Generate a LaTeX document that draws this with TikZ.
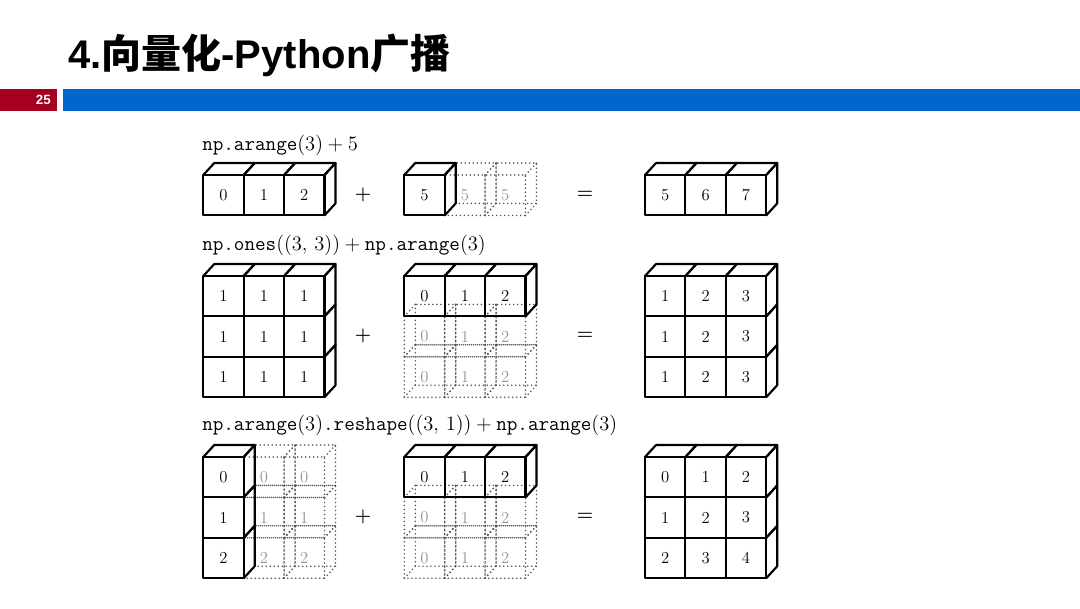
\RequirePackage{fix-cm}
\documentclass[tikz,border=0pt]{standalone}
\usepackage{fontspec}
\newfontfamily\cjk{Noto Sans CJK SC}
\newfontfamily\arialb{Liberation Sans}
\definecolor{hdrred}{HTML}{A50021}
\definecolor{hdrblue}{HTML}{0066CC}
\definecolor{ghost}{HTML}{959595}
\definecolor{dotgray}{HTML}{555555}
\def\s{40.4}
\def\dx{11}
\def\dz{12}
% solid block of cubes: x0, y0, ncols, nrows
\newcommand\solidblock[4]{%
  \foreach \i in {1,...,#3}{\foreach \j in {1,...,#4}{%
    \draw[cubeline] ({#1+(\i-1)*\s},{#2+(\j-1)*\s}) rectangle ++(\s,\s);}}
  \foreach \i in {1,...,#3}{%
    \draw[cubeline] ({#1+(\i-1)*\s},#2) -- ++(\dx,-\dz) -- ++(\s,0) -- ++(-\dx,\dz);}
  \foreach \j in {1,...,#4}{%
    \draw[cubeline] ({#1+#3*\s},{#2+(\j-1)*\s}) -- ++(\dx,-\dz) -- ++(0,\s) -- ++(-\dx,\dz);}
}
% dotted wireframe cubes: x0, y0, ncols, nrows
\newcommand\dotblock[4]{%
  \foreach \i in {1,...,#3}{\foreach \j in {1,...,#4}{%
    \draw[dotline] ({#1+(\i-1)*\s},{#2+(\j-1)*\s}) rectangle ++(\s,\s);
    \draw[dotline] ({#1+(\i-1)*\s+\dx},{#2+(\j-1)*\s-\dz}) rectangle ++(\s,\s);
    \draw[dotline] ({#1+(\i-1)*\s},{#2+(\j-1)*\s}) -- ++(\dx,-\dz);
    \draw[dotline] ({#1+\i*\s},{#2+(\j-1)*\s}) -- ++(\dx,-\dz);
    \draw[dotline] ({#1+(\i-1)*\s},{#2+\j*\s}) -- ++(\dx,-\dz);
    \draw[dotline] ({#1+\i*\s},{#2+\j*\s}) -- ++(\dx,-\dz);}}
}
\begin{document}
\begin{tikzpicture}[x=0.75pt,y=-0.75pt,
  cubeline/.style={line width=1.6pt, line join=round, line cap=round},
  dotline/.style={draw=dotgray, line width=1.3pt, line cap=round, dash pattern=on 0pt off 3pt},
  dig/.style={font=\fontsize{12.5}{14}\selectfont, inner sep=0pt},
  ghostdig/.style={dig, text=ghost},
  op/.style={font=\fontsize{14}{16}\selectfont\bfseries, inner sep=0pt},
  code/.style={anchor=base west, inner sep=0pt, font=\fontsize{15.4}{18}\selectfont}]
\useasboundingbox (0,0) rectangle (1080,608);
\fill[white] (0,0) rectangle (1080,608);

% header
\node[anchor=base west, inner sep=0pt, font=\fontsize{30}{36}\selectfont\arialb\bfseries] (title) at (68,68)
  {4.{\cjk 向量化}-Python{\cjk 广播}};
\fill[hdrred] (0,89) rectangle (57,111);
\fill[hdrblue] (62.5,89) rectangle (1080,111);
\node[anchor=east, text=white, inner sep=0pt, font=\fontsize{10}{12}\selectfont\arialb\bfseries] (pnum) at (51,100) {25};

% code labels
\node[code] (lab1) at (202,150) {$\texttt{np.arange}(3)+5$};
\node[code] (lab2) at (202,250) {$\texttt{np.ones}((3,\,3))+\texttt{np.arange}(3)$};
\node[code] (lab3) at (202,430) {$\texttt{np.arange}(3)\texttt{.reshape}((3,\,1))+\texttt{np.arange}(3)$};

% operators
\foreach \yy/\k in {195/1,336/2,517/3}{
  \node[op] (plus\k) at (363,\yy) {+};
  \node[op] (eq\k) at (585,\yy) {=};
}

% ---------- row 1 ----------
\dotblock{444.7}{175}{2}{1}
\solidblock{203.3}{175}{3}{1}
\solidblock{404.3}{175}{1}{1}
\solidblock{645}{175}{3}{1}
\foreach \v [count=\i] in {0,1,2}
  \node[dig] (r1a\i) at ({203.3+(\i-0.5)*\s},{175+0.5*\s}) {\v};
\node[dig] (r1b1) at ({404.3+0.5*\s},{175+0.5*\s}) {5};
\foreach \i in {2,3}
  \node[ghostdig] (r1b\i) at ({404.3+(\i-0.5)*\s},{175+0.5*\s}) {5};
\foreach \v [count=\i] in {5,6,7}
  \node[dig] (r1c\i) at ({645+(\i-0.5)*\s},{175+0.5*\s}) {\v};

% ---------- row 2 ----------
\dotblock{404.3}{316.4}{3}{2}
\solidblock{203.3}{276}{3}{3}
\solidblock{404.3}{276}{3}{1}
\solidblock{645}{276}{3}{3}
\foreach \j in {1,2,3}{
  \foreach \i in {1,2,3}{
    \node[dig] (r2a\i\j) at ({203.3+(\i-0.5)*\s},{276+(\j-0.5)*\s}) {1};
    \node[dig] (r2c\i\j) at ({645+(\i-0.5)*\s},{276+(\j-0.5)*\s}) {\i};
  }
}
\foreach \v [count=\i] in {0,1,2}{
  \node[dig] (r2b\i1) at ({404.3+(\i-0.5)*\s},{276+0.5*\s}) {\v};
  \node[ghostdig] (r2b\i2) at ({404.3+(\i-0.5)*\s},{276+1.5*\s}) {\v};
  \node[ghostdig] (r2b\i3) at ({404.3+(\i-0.5)*\s},{276+2.5*\s}) {\v};
}

% ---------- row 3 ----------
\dotblock{243.7}{457}{2}{3}
\dotblock{404.3}{497.4}{3}{2}
\solidblock{203.3}{457}{1}{3}
\solidblock{404.3}{457}{3}{1}
\solidblock{645}{457}{3}{3}
\foreach \j in {1,2,3}{
  \pgfmathtruncatemacro\w{\j-1}
  \node[dig] (r3a1\j) at ({203.3+0.5*\s},{457+(\j-0.5)*\s}) {\w};
  \node[ghostdig] (r3a2\j) at ({203.3+1.5*\s},{457+(\j-0.5)*\s}) {\w};
  \node[ghostdig] (r3a3\j) at ({203.3+2.5*\s},{457+(\j-0.5)*\s}) {\w};
  \foreach \i in {1,2,3}{
    \pgfmathtruncatemacro\v{\i+\j-2}
    \node[dig] (r3c\i\j) at ({645+(\i-0.5)*\s},{457+(\j-0.5)*\s}) {\v};
  }
}
\foreach \v [count=\i] in {0,1,2}{
  \node[dig] (r3b\i1) at ({404.3+(\i-0.5)*\s},{457+0.5*\s}) {\v};
  \node[ghostdig] (r3b\i2) at ({404.3+(\i-0.5)*\s},{457+1.5*\s}) {\v};
  \node[ghostdig] (r3b\i3) at ({404.3+(\i-0.5)*\s},{457+2.5*\s}) {\v};
}
\end{tikzpicture}
\end{document}
